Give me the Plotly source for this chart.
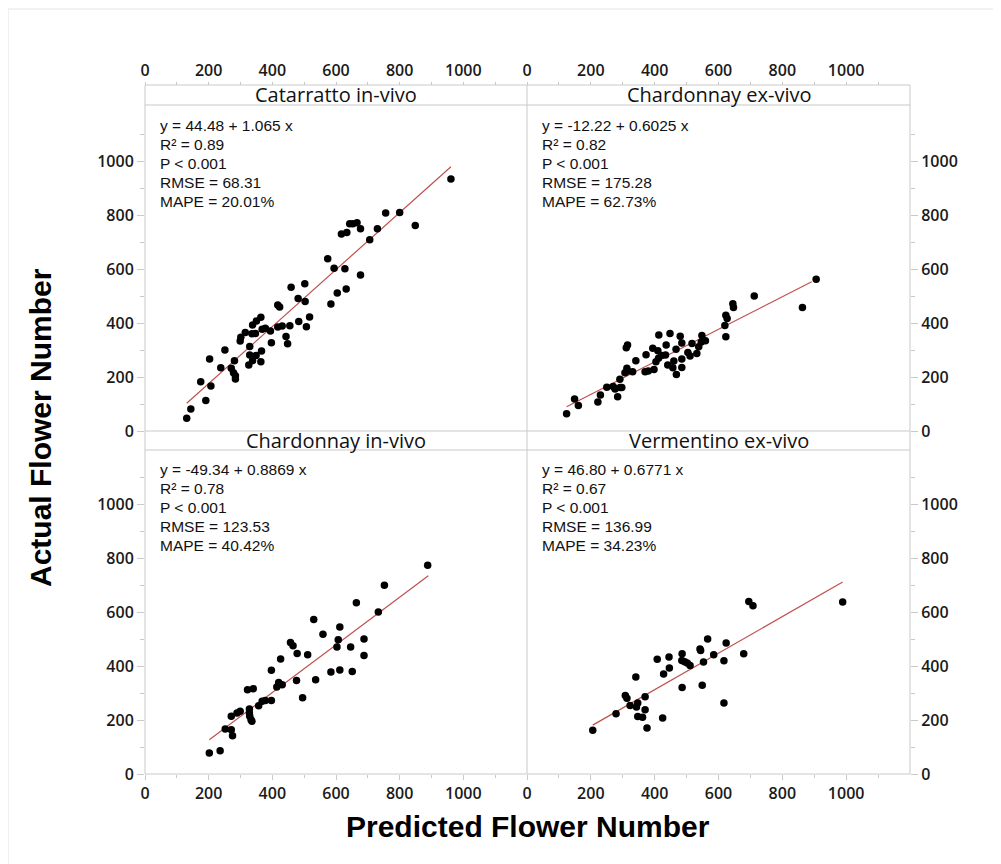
import plotly.graph_objects as go

# ---------------- data ----------------
panel_titles = ["Catarratto in-vivo", "Chardonnay ex-vivo",
                "Chardonnay in-vivo", "Vermentino ex-vivo"]

cat_inv_pred = [131, 144, 191, 175, 207, 203, 238, 251, 271, 278, 284, 284, 281,
                299, 301, 315, 326, 329, 329, 338, 349, 364, 366, 336, 347, 338,
                350, 364, 368, 378, 394, 397, 417, 423, 417, 431, 455, 443, 448,
                459, 481, 502, 503, 483, 507, 517, 574, 584, 594, 604, 628, 632,
                677, 617, 634, 643, 653, 666, 677, 706, 730, 756, 800, 849, 961]
cat_inv_act = [47, 82, 113, 183, 167, 267, 235, 301, 233, 216, 205, 193, 261,
               334, 348, 366, 245, 314, 282, 261, 280, 257, 297, 361, 362, 393,
               408, 422, 378, 381, 371, 328, 468, 460, 386, 390, 391, 351, 324,
               534, 492, 547, 481, 406, 387, 423, 639, 471, 604, 512, 602, 527,
               579, 731, 737, 769, 769, 773, 751, 710, 751, 809, 811, 763, 935]

chd_exv_pred = [124, 149, 161, 222, 230, 250, 270, 276, 284, 291, 292, 297, 307,
                313, 315, 331, 311, 315, 341, 370, 380, 398, 373, 394, 410, 413,
                404, 412, 422, 434, 436, 448, 441, 457, 460, 468, 467, 480, 485,
                485, 485, 504, 511, 517, 532, 538, 548, 546, 559, 620, 623, 627,
                623, 645, 647, 712, 863, 906]
chd_exv_act = [64, 119, 95, 108, 134, 162, 165, 156, 127, 192, 161, 161, 216,
               233, 223, 220, 309, 319, 261, 220, 223, 228, 283, 307, 298, 356,
               257, 270, 280, 282, 319, 362, 245, 235, 260, 210, 303, 352, 327,
               267, 236, 291, 278, 325, 288, 313, 354, 330, 335, 392, 430, 418,
               350, 472, 458, 501, 458, 563]

chd_inv_pred = [202, 236, 252, 271, 275, 271, 289, 299, 328, 328, 329, 333, 336,
                322, 340, 357, 368, 378, 397, 397, 414, 420, 431, 426, 457, 465,
                478, 476, 495, 511, 530, 536, 559, 584, 603, 607, 612, 612, 646,
                651, 664, 688, 688, 733, 752, 888]
chd_inv_act = [78, 86, 167, 164, 142, 214, 226, 232, 241, 226, 214, 201, 195,
               312, 316, 253, 269, 272, 272, 384, 322, 339, 331, 426, 487, 475,
               446, 346, 282, 442, 572, 349, 518, 378, 470, 497, 544, 385, 470,
               380, 634, 500, 439, 600, 699, 773]

ver_exv_pred = [206, 279, 308, 313, 323, 341, 347, 343, 347, 362, 370, 370, 376,
                408, 425, 428, 445, 446, 486, 485, 494, 502, 511, 486, 542, 544,
                553, 549, 566, 585, 617, 624, 617, 679, 695, 708, 989]
ver_exv_act = [162, 223, 291, 281, 254, 359, 263, 248, 213, 210, 286, 238, 170,
               425, 207, 370, 433, 393, 445, 420, 416, 411, 402, 320, 463, 457,
               415, 329, 500, 442, 419, 485, 263, 445, 639, 623, 637]

# fitted lines (end points)
fit_x = [[131, 961], [124, 892], [202, 890], [206, 989]]
fit_y = [[103, 981], [90, 554], [127, 734], [181, 711]]

stats_eq = ["y = 44.48 + 1.065 x", "y = -12.22 + 0.6025 x",
            "y = -49.34 + 0.8869 x", "y = 46.80 + 0.6771 x"]
stats_r2 = ["0.89", "0.82", "0.78", "0.67"]
stats_p = ["P < 0.001", "P < 0.001", "P < 0.001", "P < 0.001"]
stats_rmse = ["68.31", "175.28", "123.53", "136.99"]
stats_mape = ["20.01%", "62.73%", "40.42%", "34.23%"]

x_ticks = [0, 200, 400, 600, 800, 1000]
x_minor = [100, 300, 500, 700, 900, 1100]
y_ticks = [0, 200, 400, 600, 800, 1000]
y_minor = [100, 300, 500, 700, 900, 1100]

x_title = "Predicted Flower Number"
y_title = "Actual Flower Number"

preds = [cat_inv_pred, chd_exv_pred, chd_inv_pred, ver_exv_pred]
acts = [cat_inv_act, chd_exv_act, chd_inv_act, ver_exv_act]

# ---------------- layout geometry ----------------
OFF = 8                     # page offset of the figure inside the window
W, H = 1001 - OFF, 864 - OFF
SX0, SX1, SY0, SY1 = 145, 910, 85, 774      # screen px of plot block
ML, MR, MT, MB = SX0 - OFF, W - (SX1 - OFF), SY0 - OFF, H - (SY1 - OFF)
PW, PH = SX1 - SX0, SY1 - SY0


def px_x(px):
    return (px - SX0) / PW


def px_y(py):
    return (SY1 - py) / PH


xsplit = px_x(527)
y_top = [px_y(431), px_y(105)]
y_bot = [0.0, px_y(450)]
strip_top = [px_y(105), 1.0]
strip_bot = [px_y(450), px_y(431)]

GRAY = "#c9c9c9"
TICKFONT = dict(family="Open Sans, Segoe UI, sans-serif", size=16,
                color="#1a1a1a", weight=600)
STRIPFONT = dict(family="Open Sans, Segoe UI, sans-serif", size=20, color="#111111")
STATFONT = dict(family="Liberation Sans, Arial, sans-serif", size=15.5, color="#111111")
TITLEFONT = dict(family="Liberation Sans, Arial, sans-serif",
                 size=30, color="#000000", weight="bold")

fig = go.Figure()

axes = [("x", "y"), ("x2", "y2"), ("x3", "y3"), ("x4", "y4")]
for i in range(4):
    xa, ya = axes[i]
    fig.add_trace(go.Scatter(x=fit_x[i], y=fit_y[i], mode="lines",
                             line=dict(color="#c0504d", width=1.2),
                             xaxis=xa, yaxis=ya, showlegend=False,
                             hoverinfo="skip"))
    fig.add_trace(go.Scatter(x=preds[i], y=acts[i], mode="markers",
                             marker=dict(color="black", size=7.5),
                             xaxis=xa, yaxis=ya, showlegend=False))


def xaxis_cfg(domain, top, anchor):
    cfg = dict(domain=domain, range=[0, 1200], tickvals=x_ticks,
               ticks="outside", ticklen=5, tickcolor=GRAY, tickwidth=1,
               minor=dict(tickvals=x_minor, ticks="outside", ticklen=3,
                          tickcolor=GRAY),
               showgrid=False, zeroline=False, showline=False,
               tickfont=TICKFONT)
    if top:
        cfg.update(side="top", anchor="free", position=1.0, ticklen=3,
                   ticklabelstandoff=0)
    else:
        cfg.update(side="bottom", anchor=anchor)
    return cfg


def yaxis_cfg(domain, right, anchor, ymax):
    cfg = dict(domain=domain, range=[0, ymax], tickvals=y_ticks,
               ticks="outside", ticklen=7, tickcolor=GRAY, tickwidth=1,
               minor=dict(tickvals=y_minor, ticks="outside", ticklen=4,
                          tickcolor=GRAY),
               showgrid=False, zeroline=False, showline=False,
               tickfont=TICKFONT, anchor=anchor,
               side="right" if right else "left")
    return cfg


fig.update_layout(
    width=W, height=H,
    margin=dict(l=ML, r=MR, t=MT, b=MB),
    paper_bgcolor="white", plot_bgcolor="white",
    xaxis=xaxis_cfg([0, xsplit], True, "y"),
    xaxis2=xaxis_cfg([xsplit, 1], True, "y2"),
    xaxis3=xaxis_cfg([0, xsplit], False, "y3"),
    xaxis4=xaxis_cfg([xsplit, 1], False, "y4"),
    yaxis=yaxis_cfg(y_top, False, "x", 1210),
    yaxis2=yaxis_cfg(y_top, True, "x2", 1210),
    yaxis3=yaxis_cfg(y_bot, False, "x3", 1200),
    yaxis4=yaxis_cfg(y_bot, True, "x4", 1200),
)

# panel frames and strip separators
shapes = [
    dict(type="rect", xref="paper", yref="paper", x0=0, x1=1, y0=0, y1=1,
         line=dict(color=GRAY, width=1)),
    dict(type="line", xref="paper", yref="paper", x0=xsplit, x1=xsplit, y0=0, y1=1,
         line=dict(color=GRAY, width=1)),
    # faint outer frame of the image (left and top edges)
    dict(type="line", xref="paper", yref="paper", x0=px_x(8), x1=px_x(8),
         y0=px_y(864), y1=px_y(9), line=dict(color="#e4e4e4", width=1)),
    dict(type="line", xref="paper", yref="paper", x0=px_x(8), x1=px_x(1001),
         y0=px_y(9), y1=px_y(9), line=dict(color="#e4e4e4", width=1)),
]
for yy in [strip_top[0], strip_bot[0], strip_bot[1]]:
    shapes.append(dict(type="line", xref="paper", yref="paper", x0=0, x1=1,
                       y0=yy, y1=yy, line=dict(color=GRAY, width=1)))
fig.update_layout(shapes=shapes)

annotations = []
strip_centers = [(xsplit / 2, sum(strip_top) / 2), ((xsplit + 1) / 2, sum(strip_top) / 2),
                 (xsplit / 2, sum(strip_bot) / 2), ((xsplit + 1) / 2, sum(strip_bot) / 2)]
for i in range(4):
    cx, cy = strip_centers[i]
    annotations.append(dict(text=panel_titles[i], x=cx, y=cy, xref="paper",
                            yref="paper", showarrow=False, font=STRIPFONT,
                            xanchor="center", yanchor="middle"))
    xa, ya = axes[i]
    lines = [stats_eq[i], "R² = " + stats_r2[i], stats_p[i],
             "RMSE = " + stats_rmse[i], "MAPE = " + stats_mape[i]]
    for k, t in enumerate(lines):
        annotations.append(dict(text=t, xref=xa + " domain", yref=ya + " domain",
                                x=13 / 382, y=1 - (20 + 19 * k) / 325,
                                xanchor="left", yanchor="middle",
                                showarrow=False, font=STATFONT))

annotations.append(dict(text=x_title, xref="paper", yref="paper",
                        x=px_x(528), y=px_y(826), showarrow=False,
                        xanchor="center", yanchor="middle", font=TITLEFONT))
annotations.append(dict(text=y_title, xref="paper", yref="paper",
                        x=px_x(40), y=px_y(428), showarrow=False, textangle=-90,
                        xanchor="center", yanchor="middle", font=TITLEFONT))
fig.update_layout(annotations=annotations)

fig.write_html("out.html")
